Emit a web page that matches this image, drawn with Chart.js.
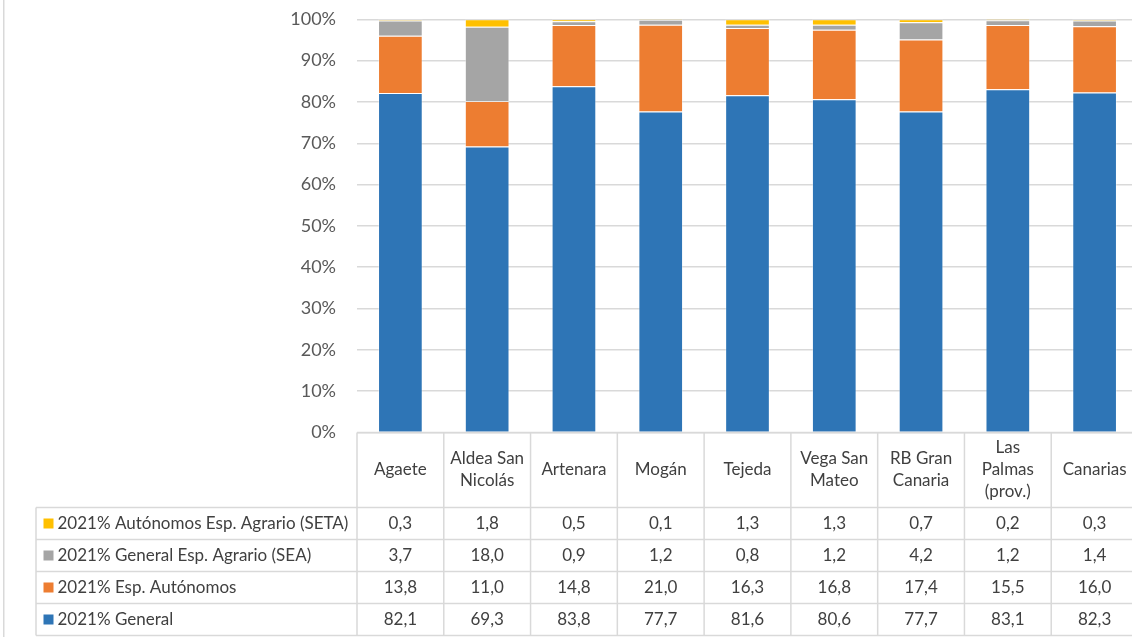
<!DOCTYPE html>
<html>
<head>
<meta charset="utf-8">
<script src="https://cdn.jsdelivr.net/npm/chart.js@4"></script>
<style>
  html, body { margin: 0; padding: 0; background: #fff; overflow: hidden; }
  canvas { display: block; }
</style>
</head>
<body>
<canvas id="c" width="1140" height="637"></canvas>
<script>
// ---- Data ----
const categories = [
  ["Agaete"],
  ["Aldea San", "Nicolás"],
  ["Artenara"],
  ["Mogán"],
  ["Tejeda"],
  ["Vega San", "Mateo"],
  ["RB Gran", "Canaria"],
  ["Las", "Palmas", "(prov.)"],
  ["Canarias"]
];
const seriesNames = [
  "2021% General",
  "2021% Esp. Autónomos",
  "2021% General Esp. Agrario (SEA)",
  "2021% Autónomos Esp. Agrario (SETA)"
];
const general     = [82.1, 69.3, 83.8, 77.7, 81.6, 80.6, 77.7, 83.1, 82.3];
const autonomos   = [13.8, 11.0, 14.8, 21.0, 16.3, 16.8, 17.4, 15.5, 16.0];
const sea         = [3.7, 18.0, 0.9, 1.2, 0.8, 1.2, 4.2, 1.2, 1.4];
const seta        = [0.3, 1.8, 0.5, 0.1, 1.3, 1.3, 0.7, 0.2, 0.3];
const yTicks      = [0, 10, 20, 30, 40, 50, 60, 70, 80, 90, 100];

const colors = ["#2E75B6", "#ED7D31", "#A5A5A5", "#FFC000"];
const raw = [general, autonomos, sea, seta];
const totals = general.map((_, i) => raw.reduce((s, arr) => s + arr[i], 0));
const pct = raw.map(arr => arr.map((v, i) => v / totals[i] * 100));

// table rows, top to bottom
const tableRows = [3, 2, 1, 0];

const FONT = "Lato, 'Open Sans', sans-serif";

const tablePlugin = {
  id: 'dataTable',
  afterDraw(chart) {
    const ctx = chart.ctx;
    const ca = chart.chartArea;
    const xs = chart.scales.x;
    const n = categories.length;
    const w = (ca.right - ca.left) / n;
    const top = ca.bottom;
    const headerBottom = 507.5;
    const rowH = 32;
    const tableLeft = 36;
    const bottom = headerBottom + rowH * 4;

    ctx.save();
    ctx.strokeStyle = "#d9d9d9";
    ctx.lineWidth = 1.5;

    // outer left border of chart
    ctx.beginPath();
    ctx.moveTo(3.75, 0); ctx.lineTo(3.75, 637);
    ctx.stroke();

    // top line of table (header)
    ctx.beginPath();
    ctx.moveTo(ca.left, top); ctx.lineTo(chart.width, top);
    ctx.stroke();

    // horizontal row lines
    for (let r = 0; r <= 4; r++) {
      const y = headerBottom + r * rowH;
      ctx.beginPath();
      ctx.moveTo(tableLeft, y); ctx.lineTo(chart.width, y);
      ctx.stroke();
    }
    // vertical lines
    for (let k = 0; k <= n; k++) {
      const x = ca.left + k * w;
      ctx.beginPath();
      ctx.moveTo(x, top); ctx.lineTo(x, bottom);
      ctx.stroke();
    }
    ctx.beginPath();
    ctx.moveTo(tableLeft, headerBottom); ctx.lineTo(tableLeft, bottom);
    ctx.stroke();

    // header labels
    ctx.fillStyle = "#404040";
    ctx.font = "17px " + FONT;
    ctx.textAlign = "center";
    ctx.textBaseline = "middle";
    const lh = 22;
    categories.forEach((lines, i) => {
      const cx = xs.getPixelForValue(i);
      const cy = (top + headerBottom) / 2;
      const start = cy - (lines.length - 1) * lh / 2;
      lines.forEach((t, j) => ctx.fillText(t, cx, start + j * lh));
    });

    // rows
    tableRows.forEach((si, r) => {
      const cy = headerBottom + r * rowH + rowH / 2;
      // legend key
      ctx.fillStyle = colors[si];
      ctx.fillRect(43.5, cy - 5, 10, 10);
      ctx.fillStyle = "#404040";
      ctx.textAlign = "left";
      ctx.fillText(seriesNames[si], 57.5, cy);
      ctx.textAlign = "center";
      raw[si].forEach((v, i) => {
        ctx.fillText(v.toFixed(1).replace('.', ','), xs.getPixelForValue(i), cy);
      });
    });
    ctx.restore();
  }
};

new Chart(document.getElementById('c'), {
  type: 'bar',
  data: {
    labels: categories.map(l => l.join(' ')),
    datasets: raw.map((arr, si) => ({
      label: seriesNames[si],
      data: pct[si],
      backgroundColor: colors[si],
      borderColor: 'rgba(255,255,255,0.35)',
      borderWidth: 1,
      categoryPercentage: 1,
      barPercentage: 0.515
    }))
  },
  options: {
    responsive: false,
    animation: false,
    devicePixelRatio: 1,
    layout: { padding: { left: 0, top: 19.3, right: 2, bottom: 637 - 432.5 } },
    plugins: { legend: { display: false }, tooltip: { enabled: false } },
    scales: {
      x: { stacked: true, display: false },
      y: {
        stacked: true,
        min: 0, max: 100,
        afterBuildTicks(scale) { scale.ticks = yTicks.map(v => ({ value: v })); },
        afterFit(scale) { scale.width = 357; scale.paddingTop = 0; scale.paddingBottom = 0; },
        ticks: {
          callback: v => v + '%',
          color: '#595959',
          font: { family: FONT, size: 18 },
          padding: 21
        },
        grid: { color: '#d9d9d9', lineWidth: 1.5, drawTicks: false },
        border: { display: false }
      }
    }
  },
  plugins: [tablePlugin]
});
</script>
</body>
</html>
